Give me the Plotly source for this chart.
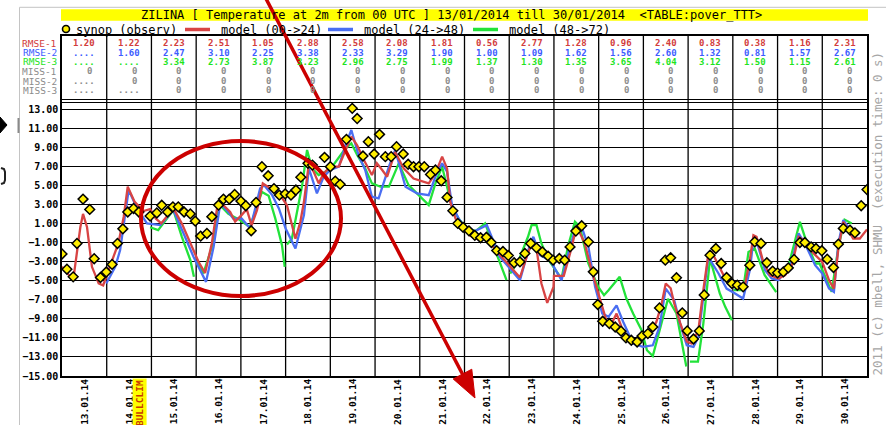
import plotly.graph_objects as go

# ---------------------------------------------------------------- data
dates = ["13.01.14", "14.01.14", "15.01.14", "16.01.14", "17.01.14", "18.01.14",
         "19.01.14", "20.01.14", "21.01.14", "22.01.14", "23.01.14", "24.01.14",
         "25.01.14", "26.01.14", "27.01.14", "28.01.14", "29.01.14", "30.01.14"]

rmse_1 = ["1.20", "1.22", "2.23", "2.51", "1.05", "2.88", "2.58", "2.08", "1.81",
          "0.56", "2.77", "1.28", "0.96", "2.40", "0.83", "0.38", "1.16", "2.31"]
rmse_2 = ["....", "1.60", "2.47", "3.10", "2.25", "3.38", "2.33", "3.29", "1.90",
          "1.00", "1.09", "1.62", "1.56", "2.60", "1.32", "0.81", "1.57", "2.67"]
rmse_3 = ["....", "....", "3.34", "2.73", "3.87", "3.23", "2.96", "2.75", "1.99",
          "1.37", "1.30", "1.35", "3.65", "4.04", "3.12", "1.50", "1.15", "2.61"]
miss_1 = ["0"] * 18
miss_2 = ["...."] + ["0"] * 17
miss_3 = ["....", "...."] + ["0"] * 16

# observations: time in days since 13.01.2014 00 UTC, temperature in deg C
obs_day = [0.00, 0.11, 0.25, 0.335, 0.47, 0.62, 0.72, 0.86, 0.99, 1.12, 1.24, 1.36,
           1.47, 1.60, 1.72, 1.97, 2.12, 2.23, 2.36, 2.48, 2.60, 2.73, 2.87, 2.98,
           3.10, 3.24, 3.35, 3.50, 3.61, 3.74, 3.86, 4.00, 4.11, 4.23, 4.34, 4.47,
           4.61, 4.74, 4.86, 4.99, 5.12, 5.23, 5.34, 5.50, 5.60, 5.87, 6.00, 6.11,
           6.22, 6.36, 6.49, 6.60, 6.73, 6.85, 6.98, 7.10, 7.23, 7.36, 7.48, 7.63,
           7.74, 7.86, 7.98, 8.10, 8.24, 8.35, 8.48, 8.61, 8.74, 8.85, 8.97, 9.10,
           9.23, 9.36, 9.49, 9.60, 9.72, 9.86, 9.98, 10.11, 10.24, 10.35, 10.48, 10.61,
           10.74, 10.87, 10.98, 11.12, 11.24, 11.36, 11.49, 11.62, 11.77, 11.88, 11.98, 12.09,
           12.24, 12.37, 12.50, 12.61, 12.73, 12.86, 12.97, 13.10, 13.21, 13.36, 13.49, 13.61,
           13.74, 13.87, 13.98, 14.12, 14.25, 14.36, 14.49, 14.62, 14.74, 14.86, 14.98, 15.10,
           15.23, 15.38, 15.49, 15.63, 15.76, 15.89, 16.00, 16.13, 16.24, 16.37, 16.50, 16.61,
           16.75, 16.86, 16.99, 17.11, 17.25, 17.36, 17.47, 17.62, 17.73, 17.87, 18.00]
obs_t = [-2.2, -3.8, -4.6, -1.1, 3.55, 2.47, -2.7, -4.67, -4.1, -3.3, -1.1, 0.43,
         2.2, 2.57, 2.2, 1.77, 2.1, 2.9, 2.2, 2.74, 2.74, 2.2, 2.0, 1.24,
         -0.33, -0.05, 1.7, 2.92, 3.55, 3.55, 4.04, 3.34, 2.86, 0.23, 3.2, 6.95,
         6.0, 4.65, 3.97, 4.1, 3.97, 4.5, 5.85, 7.3, 7.12, 7.93, 6.95, 5.44,
         5.1, 9.82, 13.07, 12.0, 8.07, 9.57, 8.28, 10.34, 8.0, 8.0, 9.05, 8.28,
         7.2, 6.95, 6.95, 6.95, 6.14, 6.6, 5.47, 3.73, 2.32, 1.0, 0.58, 0.22,
         -0.25, -0.5, -0.45, -1.0, -1.85, -1.95, -2.37, -3.13, -3.03, -2.15, -1.1, -1.56,
         -1.98, -2.43, -2.85, -2.68, -2.85, -1.46, 0.2, 0.75, -0.93, -4.08, -7.5, -9.26,
         -9.5, -9.86, -10.3, -11.0, -11.25, -11.43, -10.8, -10.55, -9.86, -7.86, -2.85, -2.6,
         -4.7, -8.38, -10.27, -11.12, -10.27, -6.5, -2.33, -1.63, -3.2, -4.67, -5.3, -5.48,
         -5.65, -3.38, -0.93, -1.1, -3.13, -4.0, -4.18, -4.08, -3.66, -2.78, -1.0, -1.0,
         -1.46, -1.63, -1.87, -2.75, -3.62, -1.17, 0.48, 0.3, 0.01, 2.86, 4.55]

# model (00->24)
m1_day = [0.00, 0.25, 0.41, 0.47, 0.56, 0.67, 0.82, 0.92, 1.08, 1.26, 1.38, 1.47,
          1.62, 1.82, 1.97, 2.10, 2.22, 2.36, 2.49, 2.68, 2.87, 3.05, 3.20, 3.35,
          3.48, 3.61, 3.76, 3.87, 4.02, 4.13, 4.24, 4.36, 4.49, 4.70, 4.88, 5.03,
          5.22, 5.33, 5.41, 5.52, 5.63, 5.74, 5.85, 6.00, 6.19, 6.34, 6.47, 6.60,
          6.75, 6.93, 7.04, 7.16, 7.27, 7.45, 7.64, 7.86, 8.12, 8.20, 8.35, 8.50,
          8.61, 8.68, 8.80, 8.94, 9.13, 9.35, 9.50, 9.64, 9.83, 10.05, 10.24, 10.39,
          10.50, 10.61, 10.72, 10.85, 10.99, 11.00, 11.22, 11.36, 11.47, 11.55, 11.69, 11.84,
          11.95, 12.06, 12.18, 12.29, 12.40, 12.51, 12.66, 12.85, 12.99, 13.14, 13.29, 13.40,
          13.50, 13.61, 13.69, 13.82, 13.97, 14.08, 14.23, 14.34, 14.45, 14.53, 14.68, 14.83,
          14.98, 15.16, 15.27, 15.38, 15.46, 15.53, 15.68, 15.83, 16.02, 16.17, 16.32, 16.47,
          16.58, 16.77, 17.00, 17.15, 17.26, 17.36, 17.47, 17.58, 17.69, 17.84, 18.00]
m1_t = [-3.55, -4.95, 0.6, 2.0, 0.6, -3.55, -5.3, -5.5, -3.4, -1.1, 1.7, 4.85,
        3.3, 2.3, 2.5, 1.5, 1.0, 1.8, 2.6, 1.0, -1.1, -3.0, -4.2, -1.1,
        3.0, 2.9, 2.2, 1.2, 1.9, 2.5, 0.8, 2.4, 5.2, 4.5, 3.97, 2.9,
        -0.6, 1.17, 3.27, 7.3, 6.4, 5.2, 6.25, 6.95, 6.95, 8.7, 10.1, 9.2,
        7.65, 6.07, 7.3, 6.6, 5.9, 8.5, 6.77, 5.7, 5.37, 5.2, 6.25, 8.0,
        6.77, 3.27, 1.5, 0.64, -0.3, -0.75, -0.4, -1.46, -2.5, -3.73, -4.67, -2.5,
        -1.1, -1.63, -5.3, -7.33, -5.65, -4.5, -4.5, -2.15, -0.05, 0.3, -1.1, -3.9,
        -5.65, -7.4, -9.33, -9.5, -8.45, -9.86, -11.07, -11.43, -11.07, -10.55, -9.33, -7.6,
        -5.3, -5.8, -7.4, -9.4, -11.4, -11.6, -10.2, -6.0, -2.33, -2.0, -3.38, -4.78,
        -5.48, -5.83, -5.48, -2.85, -0.23, -0.4, -3.03, -4.43, -4.78, -4.43, -3.38, -0.4,
        -0.75, -1.98, -3.03, -4.95, -5.83, -1.63, 1.17, 0.3, -0.58, -0.58, 0.37]

# model (24->48)
m2_day = [0.99, 1.19, 1.30, 1.49, 1.68, 1.90, 2.20, 2.49, 2.75, 2.94, 3.22, 3.39,
          3.54, 3.72, 3.83, 4.02, 4.21, 4.43, 4.52, 4.70, 4.85, 5.00, 5.22, 5.41,
          5.52, 5.70, 5.85, 6.00, 6.19, 6.34, 6.47, 6.63, 6.78, 6.93, 7.08, 7.31,
          7.45, 7.68, 7.94, 8.20, 8.35, 8.50, 8.61, 8.72, 8.87, 9.05, 9.12, 9.50,
          9.79, 10.24, 10.46, 10.54, 10.69, 10.91, 11.17, 11.32, 11.47, 11.62, 11.77, 11.92,
          12.08, 12.22, 12.40, 12.55, 12.77, 12.99, 13.21, 13.36, 13.50, 13.69, 13.82, 13.97,
          14.12, 14.23, 14.34, 14.45, 14.68, 14.86, 15.05, 15.23, 15.38, 15.46, 15.57, 15.72,
          15.87, 16.02, 16.32, 16.47, 16.61, 16.84, 17.00, 17.15, 17.26, 17.36, 17.47, 17.58,
          17.69]
m2_t = [-5.3, -3.55, -1.8, 4.5, 2.57, 1.0, 0.82, 2.4, -0.4, -2.5, -5.13, -1.46,
        3.1, 2.2, 1.5, 1.5, 0.47, 4.67, 5.0, 3.97, 2.57, 0.47, -1.63, 1.87,
        6.77, 4.15, 5.9, 6.6, 6.95, 9.2, 10.8, 8.17, 6.6, 3.8, 3.62, 6.95,
        8.7, 4.85, 4.15, 3.97, 5.9, 7.3, 6.42, 2.92, 1.5, 0.3, -0.05, 0.82,
        -2.5, -4.95, -1.28, -0.4, -2.33, -2.85, -4.95, -2.15, 0.3, 0.64, -1.46, -5.65,
        -8.45, -8.8, -7.6, -9.33, -11.6, -11.95, -11.78, -9.86, -5.83, -7.05, -9.5, -11.78,
        -11.95, -10.9, -6.7, -2.5, -4.25, -5.83, -6.35, -6.88, -3.9, -0.75, -1.46, -3.9,
        -4.78, -4.95, -3.03, -0.05, -1.1, -3.38, -4.25, -5.83, -6.18, -1.1, 1.35, 0.64,
        -0.4]

# model (48->72), None separates forecast runs that do not join
m3_day = [1.97, 2.15, 2.49, 2.68, 2.87, 2.95, None,
          3.02, 3.16, 3.35, 3.52, 3.72, 3.98, 4.20, 4.47, 4.62, 4.77, 4.92, 4.98, None,
          5.03, 5.14, 5.37, 5.48, 5.59, 5.74, 5.89, 6.04, 6.34, 6.47, 6.60, 6.78,
          6.93, 7.12, 7.31, 7.53, 7.75, 7.98, 8.20, 8.35, 8.50, 8.72, 8.87, 9.05,
          9.25, 9.46, 9.68, 9.94, None,
          10.02, 10.20, 10.42, 10.50, 10.61, 10.72, 10.91, 11.17, 11.32, 11.47, 11.58, 11.77,
          11.99, 12.12, 12.22, 12.47, 12.62, 12.77, 12.96, 13.08, 13.21, 13.36, 13.55, 13.74,
          13.92, 13.96, None,
          14.04, 14.22, 14.34, 14.49, 14.71, 14.83, 14.98, None,
          15.02, 15.23, 15.35, 15.49, 15.71, 15.97, None,
          16.02, 16.24, 16.50, 16.61, 16.84, 16.94, 17.21, 17.36, 17.50, 17.66]
m3_t = [0.6, 0.3, 2.4, -0.4, -2.85, -4.6, None,
        -3.0, -4.25, -1.5, 3.0, 2.0, 1.35, 0.6, 4.3, 3.9, 1.5, -1.3, -3.55, None,
        -1.2, -0.6, 5.0, 8.7, 6.77, 6.07, 6.42, 6.95, 8.87, 9.4, 8.17, 6.77,
        5.2, 4.85, 4.85, 7.3, 5.02, 3.97, 2.92, 5.2, 6.95, 2.74, 1.5, 0.47,
        0.2, 1.0, -1.8, -4.95, None,
        -4.25, -3.0, -0.4, 0.82, 0.82, -1.1, -3.03, -4.78, -1.28, 1.17, 0.64, -3.2,
        -5.65, -6.53, -6.0, -4.6, -6.88, -8.45, -10.2, -12.3, -12.9, -10.2, -6.9, -8.45,
        -13.35, -14.0, None,
        -13.5, -13.5, -9.5, -2.7, -6.35, -7.75, -9.15, None,
        -6.0, -6.0, -2.0, -1.63, -4.4, -6.2, None,
        -4.9, -3.55, 1.17, -0.4, -3.2, -3.2, -6.18, -1.5, 1.4, 1.0]

y_ticks = list(range(-15, 14, 2))

# ---------------------------------------------------------------- geometry helpers
W, H = 886, 425
ML, MR, MT, MB = 62, 19, 36, 49
PW, PH = W - ML - MR, H - MT - MB
Y_LO = -15.0
Y_HI = 13 + (109 - MT) * 28.0 / (376 - 109)


def px(x):
    return (x - ML) / PW


def py(y):
    return (H - MB - y) / PH


MONO = "DejaVu Sans Mono"
RED, BLUE, GREEN = "#d84444", "#4a6ef2", "#22e23a"

fig = go.Figure()
fig.add_trace(go.Scatter(x=m3_day, y=m3_t, mode="lines", line=dict(color=GREEN, width=2.3),
                         connectgaps=False, name="model (48->72)"))
fig.add_trace(go.Scatter(x=m2_day, y=m2_t, mode="lines", line=dict(color=BLUE, width=2.3),
                         name="model (24->48)"))
fig.add_trace(go.Scatter(x=m1_day, y=m1_t, mode="lines", line=dict(color=RED, width=2.3),
                         name="model (00->24)"))
fig.add_trace(go.Scatter(x=obs_day, y=obs_t, mode="markers", name="synop (observ)",
                         marker=dict(symbol="diamond", size=7.5, color="#ffee00",
                                     line=dict(color="black", width=1.5))))

shapes = []
# day separators through plot and table
for i in range(1, len(dates)):
    shapes.append(dict(type="line", xref="x", yref="paper", x0=i, x1=i, y0=0, y1=1,
                       line=dict(color="black", width=1.3), layer="below"))
# table bottom double rule
for yy in (99.5, 102.5):
    shapes.append(dict(type="line", xref="paper", yref="paper", x0=0, x1=1,
                       y0=py(yy), y1=py(yy), line=dict(color="black", width=1.2)))
# title bar
shapes.append(dict(type="rect", xref="paper", yref="paper", x0=px(61), x1=px(868),
                   y0=py(20.7), y1=py(9.3), fillcolor="#ffff00", line=dict(width=0),
                   layer="below"))
# legend keys
shapes.append(dict(type="circle", xref="paper", yref="paper", x0=px(62.5), x1=px(69.5),
                   y0=py(32.5), y1=py(25.5), fillcolor="#ffee00",
                   line=dict(color="black", width=1.6)))
for x0, col in ((185, RED), (328, BLUE), (473, GREEN)):
    shapes.append(dict(type="line", xref="paper", yref="paper", x0=px(x0), x1=px(x0 + 25),
                       y0=py(29.5), y1=py(29.5), line=dict(color=col, width=3.5)))
# page frame
shapes.append(dict(type="line", xref="paper", yref="paper", x0=px(19.5), x1=px(886),
                   y0=py(7.3), y1=py(7.3), line=dict(color="#c4c4c4", width=1)))
shapes.append(dict(type="line", xref="paper", yref="paper", x0=px(19.5), x1=px(19.5),
                   y0=py(7.3), y1=py(425), line=dict(color="#c4c4c4", width=1)))
shapes.append(dict(type="line", xref="paper", yref="paper", x0=px(18.5), x1=px(18.5),
                   y0=py(118), y1=py(133), line=dict(color="#8a8a8a", width=2)))
# side widgets
shapes.append(dict(type="path", xref="paper", yref="paper",
                   path=f"M {px(0)} {py(117)} L {px(7)} {py(125)} L {px(0)} {py(133)} Z",
                   fillcolor="black", line=dict(color="black", width=1)))
shapes.append(dict(type="path", xref="paper", yref="paper",
                   path=(f"M {px(1)} {py(168)} L {px(4)} {py(169)} L {px(5)} {py(172)} "
                         f"L {px(5)} {py(180)} L {px(4)} {py(183)} L {px(1)} {py(184)}"),
                   line=dict(color="#222222", width=2)))
# highlight ellipse
shapes.append(dict(type="circle", xref="paper", yref="paper", x0=px(141), x1=px(341),
                   y0=py(296), y1=py(141), line=dict(color="#cc0000", width=4)))
# pointer arrow
tip = (475.0, 398.0)
start = (262.5, -8.0)
dx, dy = tip[0] - start[0], tip[1] - start[1]
ln = (dx * dx + dy * dy) ** 0.5
ux, uy = dx / ln, dy / ln
head_len, head_half = 27.0, 10.5
bx, by = tip[0] - head_len * ux, tip[1] - head_len * uy
c1 = (bx - head_half * uy, by + head_half * ux)
c2 = (bx + head_half * uy, by - head_half * ux)
shapes.append(dict(type="line", xref="paper", yref="paper", x0=px(start[0]), y0=py(start[1]),
                   x1=px(bx + 3 * ux), y1=py(by + 3 * uy), line=dict(color="#cc0000", width=3.5)))
shapes.append(dict(type="path", xref="paper", yref="paper",
                   path=(f"M {px(tip[0])} {py(tip[1])} L {px(c1[0])} {py(c1[1])} "
                         f"L {px(c2[0])} {py(c2[1])} Z"),
                   fillcolor="#cc0000", line=dict(color="#cc0000", width=1)))

ann = []
ann.append(dict(xref="paper", yref="paper", x=px(139), y=py(15.2), xanchor="left",
                yanchor="middle", showarrow=False,
                text="ZILINA [ Temperature at 2m from 00 UTC ] 13/01/2014 till 30/01/2014  &lt;TABLE:pover_TTT&gt;",
                font=dict(family=MONO, size=12, color="black")))
for x0, label in ((74, "synop (observ)"), (219, "model (00->24)"),
                  (362, "model (24->48)"), (507, "model (48->72)")):
    ann.append(dict(xref="paper", yref="paper", x=px(x0), y=py(29.5), xanchor="left",
                    yanchor="middle", showarrow=False, text=label.replace(">", "&gt;"),
                    font=dict(family=MONO, size=12, color="black")))

rows = [("RMSE-1", rmse_1, "#d23c3c", 43.3), ("RMSE-2", rmse_2, "#3c5cff", 52.7),
        ("RMSE-3", rmse_3, "#1ee41e", 62.0), ("MISS-1", miss_1, "#8c8c8c", 71.3),
        ("MISS-2", miss_2, "#8c8c8c", 81.0), ("MISS-3", miss_3, "#8c8c8c", 90.3)]
for label, vals, col, yy in rows:
    ann.append(dict(xref="paper", yref="paper", x=px(58), y=py(yy), xanchor="right",
                    yanchor="middle", showarrow=False, text=label, borderpad=0,
                    font=dict(family=MONO, size=9.5, color=col)))
    for i, v in enumerate(vals):
        ann.append(dict(xref="x", yref="paper", x=i + 0.5, y=py(yy), xanchor="center",
                        yanchor="middle", showarrow=False, text=v, borderpad=0,
                        xshift=5 if v == "0" else 0,
                        font=dict(family=MONO, size=9, color=col, weight="bold")))

# day labels under the axis, reading upwards
for i, d in enumerate(dates):
    ann.append(dict(xref="x", yref="paper", x=i + 0.5, y=py(377.5), xanchor="center",
                    yanchor="top", showarrow=False, textangle=-90, text=d, borderpad=0,
                    font=dict(family=MONO, size=9.5, color="black", weight="bold")))

ann.append(dict(xref="x", yref="paper", x=1.5, xshift=10, y=py(378), yanchor="top",
                xanchor="center", showarrow=False, textangle=-90, text="BULLCLIM",
                bgcolor="#ffff00", borderpad=1,
                font=dict(family=MONO, size=9.5, color="#c83a00", weight="bold")))
ann.append(dict(xref="paper", yref="paper", x=px(877.5), y=py(213), xanchor="center",
                yanchor="middle", showarrow=False, textangle=-90,
                text="2011 (c) mbell, SHMU  (execution time: 0 s)",
                font=dict(family=MONO, size=12.5, color="#a6a6a6")))

fig.update_layout(
    width=W, height=H, margin=dict(l=ML, r=MR, t=MT, b=MB, autoexpand=False),
    paper_bgcolor="white", plot_bgcolor="white", showlegend=False,
    shapes=shapes, annotations=ann,
    xaxis=dict(range=[0, len(dates)], showgrid=False, zeroline=False, automargin=False,
               showticklabels=False, ticks="", showline=True, mirror=True,
               linecolor="black", linewidth=1.5),
    yaxis=dict(range=[Y_LO, Y_HI], tickvals=y_ticks, tickformat=".2f", ticks="",
               automargin=False,
               showgrid=True, gridcolor="black", gridwidth=1.2, zeroline=False,
               showline=True, mirror=True, linecolor="black", linewidth=1.5,
               tickfont=dict(family=MONO, size=10, color="black", weight="bold")),
)

fig.write_html("out.html")
